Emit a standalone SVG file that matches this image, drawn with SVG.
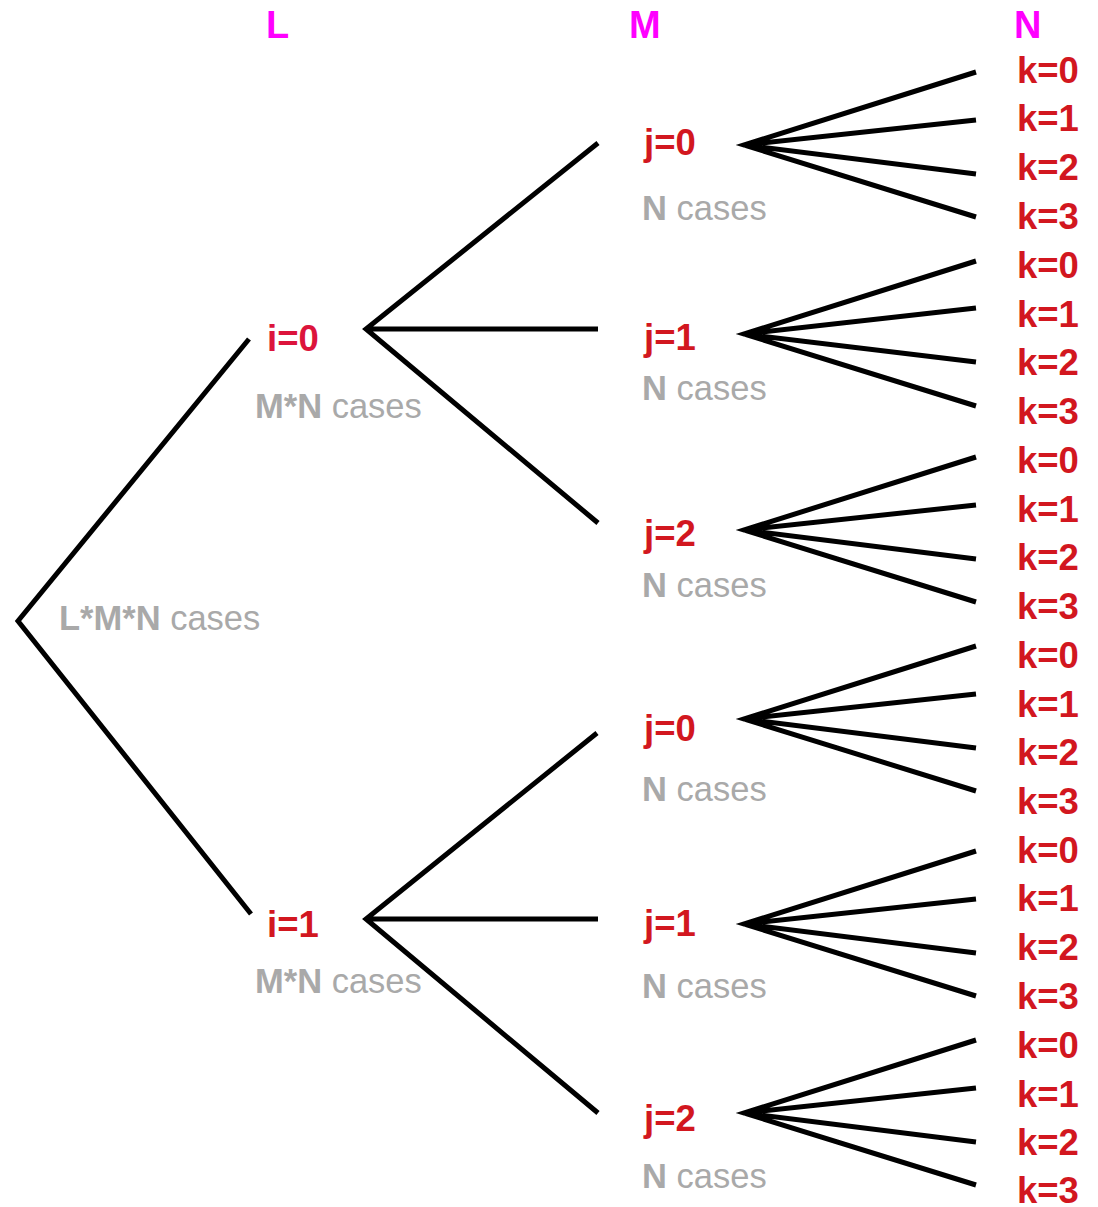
<svg xmlns="http://www.w3.org/2000/svg" width="1098" height="1207" viewBox="0 0 1098 1207">
<style>
text{font-family:"Liberation Sans",Arial,sans-serif;font-weight:bold}
.h{fill:#FF00FF;font-size:38px}
.lab{fill:#D2171F;font-size:36.5px}
.i0{fill:#DC143C}
.g{fill:#A9A9A9;font-size:34.5px}
.g tspan.r{font-weight:normal}
.e{stroke:#000;stroke-width:5;fill:none}
</style>
<rect width="1098" height="1207" fill="#fff"/>
<g id="headers">
<text class="h" x="266" y="38">L</text>
<text class="h" x="629" y="38">M</text>
<text class="h" x="1014" y="38">N</text>
</g>
<g id="connectors">
<path class="e" d="M249,339 L18,621 L251,914"/>
<path class="e" d="M598,143 L366,329 L598,523 M366,329 L598,329"/>
<path class="e" d="M597,733 L366,919 L598,1113 M366,919 L598,919"/>
<path class="e" d="M976,72 L744,145 L976,217 M976,120 L744,145 L976,174"/>
<path class="e" d="M976,261 L744,334 L976,406 M976,308 L744,334 L976,362"/>
<path class="e" d="M976,457 L744,530 L976,602 M976,505 L744,530 L976,559"/>
<path class="e" d="M976,646 L744,719 L976,791 M976,694 L744,719 L976,748"/>
<path class="e" d="M976,851 L744,924 L976,996 M976,899 L744,924 L976,953"/>
<path class="e" d="M976,1040 L744,1113 L976,1185 M976,1088 L744,1113 L976,1142"/>
</g>
<g id="root"><text class="g" x="59" y="630">L*M*N<tspan class="r"> cases</tspan></text></g>
<g id="i0"><text class="lab i0" x="267" y="351">i=0</text><text class="g" x="255" y="418">M*N<tspan class="r"> cases</tspan></text></g>
<g id="i1"><text class="lab" x="267" y="937">i=1</text><text class="g" x="255" y="993">M*N<tspan class="r"> cases</tspan></text></g>
<g id="j0a"><text class="lab" x="644" y="155">j=0</text><text class="g" x="642" y="220">N<tspan class="r"> cases</tspan></text></g>
<g id="j1a"><text class="lab" x="644" y="350">j=1</text><text class="g" x="642" y="400">N<tspan class="r"> cases</tspan></text></g>
<g id="j2a"><text class="lab" x="644" y="546">j=2</text><text class="g" x="642" y="597">N<tspan class="r"> cases</tspan></text></g>
<g id="j0b"><text class="lab" x="644" y="741">j=0</text><text class="g" x="642" y="801">N<tspan class="r"> cases</tspan></text></g>
<g id="j1b"><text class="lab" x="644" y="936">j=1</text><text class="g" x="642" y="998">N<tspan class="r"> cases</tspan></text></g>
<g id="j2b"><text class="lab" x="644" y="1131">j=2</text><text class="g" x="642" y="1188">N<tspan class="r"> cases</tspan></text></g>
<g id="k-leaves">
<text class="lab" x="1017" y="83">k=0</text>
<text class="lab" x="1017" y="131">k=1</text>
<text class="lab" x="1017" y="180">k=2</text>
<text class="lab" x="1017" y="229">k=3</text>
<text class="lab" x="1017" y="278">k=0</text>
<text class="lab" x="1017" y="327">k=1</text>
<text class="lab" x="1017" y="375">k=2</text>
<text class="lab" x="1017" y="424">k=3</text>
<text class="lab" x="1017" y="473">k=0</text>
<text class="lab" x="1017" y="522">k=1</text>
<text class="lab" x="1017" y="570">k=2</text>
<text class="lab" x="1017" y="619">k=3</text>
<text class="lab" x="1017" y="668">k=0</text>
<text class="lab" x="1017" y="717">k=1</text>
<text class="lab" x="1017" y="765">k=2</text>
<text class="lab" x="1017" y="814">k=3</text>
<text class="lab" x="1017" y="863">k=0</text>
<text class="lab" x="1017" y="911">k=1</text>
<text class="lab" x="1017" y="960">k=2</text>
<text class="lab" x="1017" y="1009">k=3</text>
<text class="lab" x="1017" y="1058">k=0</text>
<text class="lab" x="1017" y="1107">k=1</text>
<text class="lab" x="1017" y="1155">k=2</text>
<text class="lab" x="1017" y="1203">k=3</text>
</g>
</svg>
